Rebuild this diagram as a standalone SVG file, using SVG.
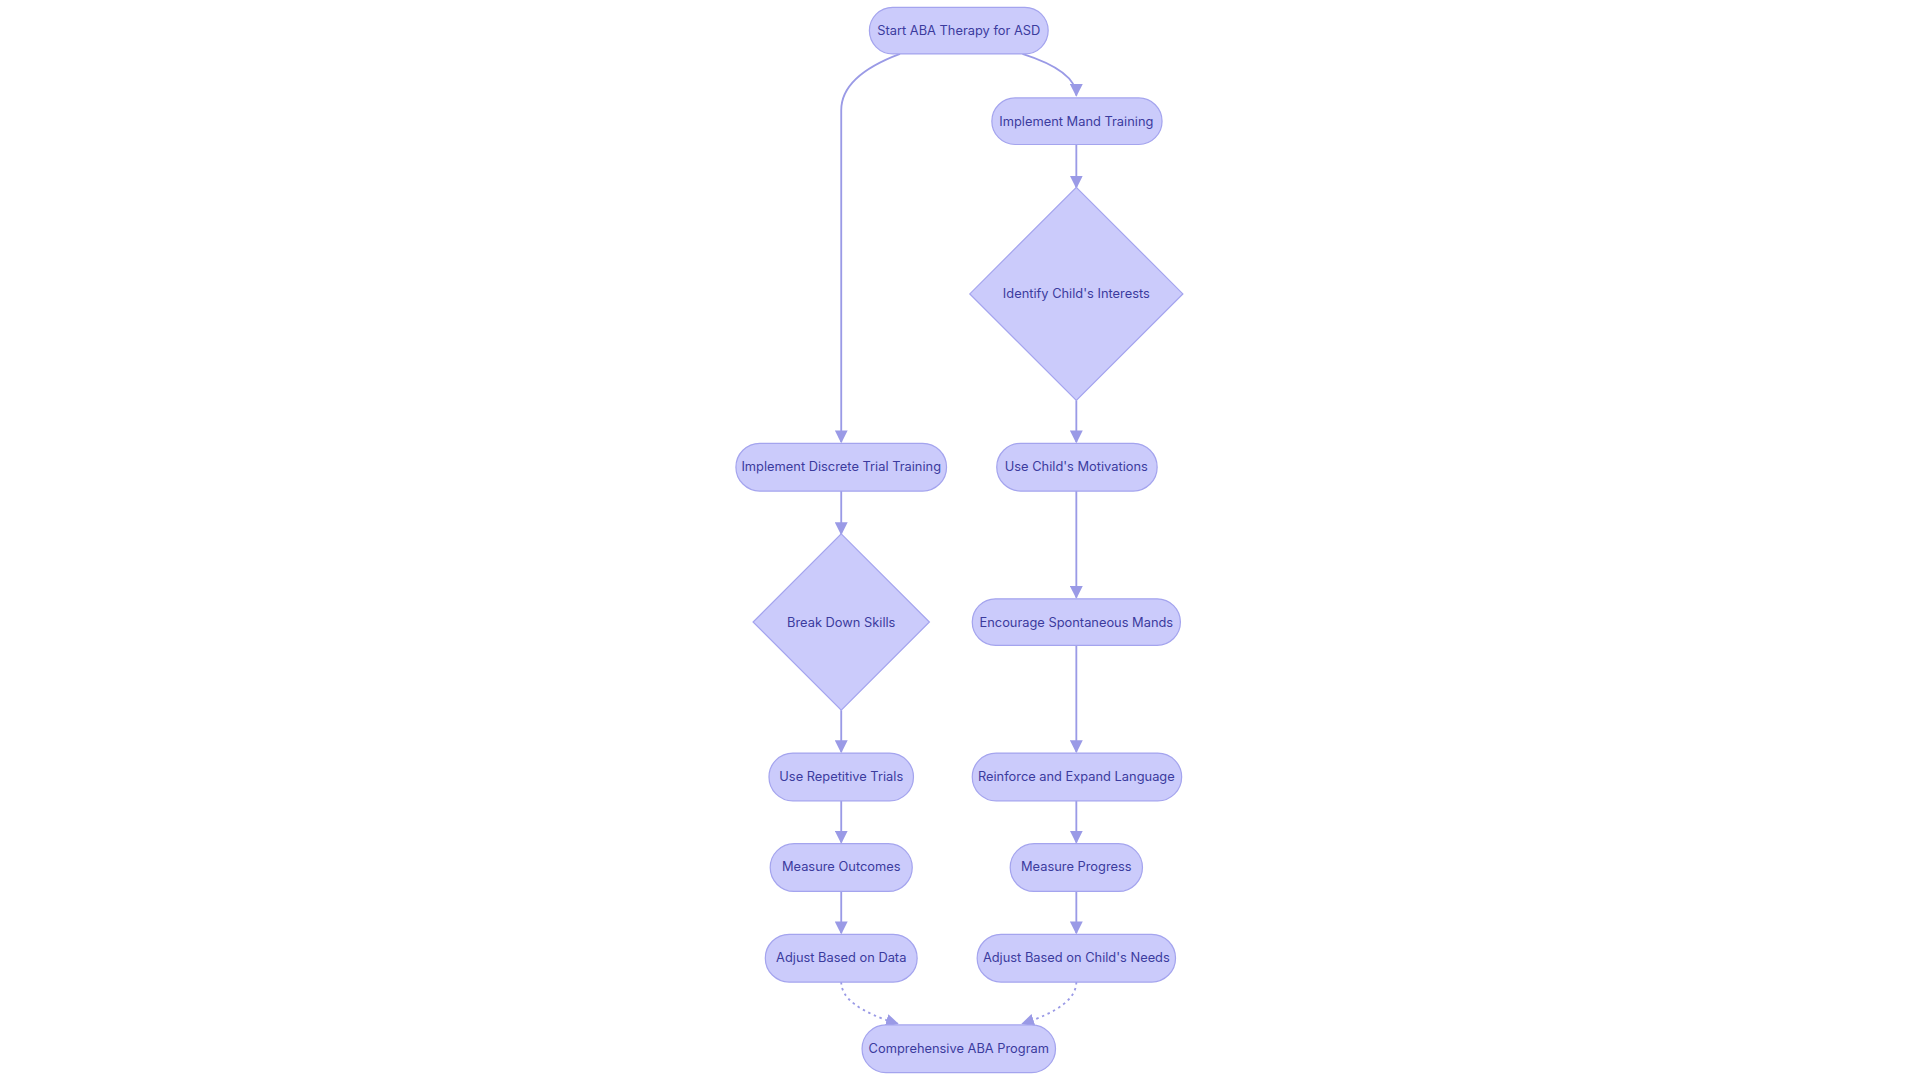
<svg xmlns="http://www.w3.org/2000/svg" width="1920" height="1080" viewBox="0 0 1920 1080">
<defs>
<style>
.n{fill:#CBCBFB;stroke:#A4A4EE;stroke-width:1}
.t{font-family:Inter,"Liberation Sans",sans-serif;font-size:10.5px;fill:#3B3B9E;text-anchor:middle;dominant-baseline:central}
.e{fill:none;stroke:#9A9AE6;stroke-width:1.5}
.d{stroke-dasharray:2 3}
</style>
<marker id="a" viewBox="0 0 10 10" refX="9" refY="5" markerWidth="7" markerHeight="7" orient="auto"><path d="M0,0L10,5L0,10z" fill="#9A9AE6"/></marker>
</defs>
<rect width="1920" height="1080" fill="#fff"/>
<g transform="scale(1.2245)">
<g id="connectors">
<path class="e" d="M735,44 Q687,62 687,90 L687,361" marker-end="url(#a)"/>
<path class="e" d="M835,44 Q879,58 879,78" marker-end="url(#a)"/>
<path class="e" d="M879,118 L879,153" marker-end="url(#a)"/>
<path class="e" d="M879,327 L879,361" marker-end="url(#a)"/>
<path class="e" d="M687,401 L687,436" marker-end="url(#a)"/>
<path class="e" d="M879,401 L879,488" marker-end="url(#a)"/>
<path class="e" d="M687,580 L687,614" marker-end="url(#a)"/>
<path class="e" d="M879,527 L879,614" marker-end="url(#a)"/>
<path class="e" d="M687,654 L687,688" marker-end="url(#a)"/>
<path class="e" d="M879,654 L879,688" marker-end="url(#a)"/>
<path class="e" d="M687,728 L687,762" marker-end="url(#a)"/>
<path class="e" d="M879,728 L879,762" marker-end="url(#a)"/>
<path class="e d" d="M687,802 Q687,822 733,836" marker-end="url(#a)"/>
<path class="e d" d="M879,802 Q879,822 835,836" marker-end="url(#a)"/>
</g>
<g id="start"><rect class="n" x="710" y="6" width="146" height="38" rx="19"/><text class="t" x="783" y="25">Start ABA Therapy for ASD</text></g>
<g id="mand"><rect class="n" x="810" y="80" width="139" height="38" rx="19"/><text class="t" x="879" y="99">Implement Mand Training</text></g>
<g id="interests"><polygon class="n" points="879,153 966,240 879,327 792,240"/><text class="t" x="879" y="240">Identify Child's Interests</text></g>
<g id="dtt"><rect class="n" x="601" y="362" width="172" height="39" rx="19.5"/><text class="t" x="687" y="381">Implement Discrete Trial Training</text></g>
<g id="motiv"><rect class="n" x="814" y="362" width="131" height="39" rx="19.5"/><text class="t" x="879" y="381">Use Child's Motivations</text></g>
<g id="breakdown"><polygon class="n" points="687,436 759,508 687,580 615,508"/><text class="t" x="687" y="508">Break Down Skills</text></g>
<g id="encourage"><rect class="n" x="794" y="489" width="170" height="38" rx="19"/><text class="t" x="879" y="508">Encourage Spontaneous Mands</text></g>
<g id="repetitive"><rect class="n" x="628" y="615" width="118" height="39" rx="19.5"/><text class="t" x="687" y="634">Use Repetitive Trials</text></g>
<g id="reinforce"><rect class="n" x="794" y="615" width="171" height="39" rx="19.5"/><text class="t" x="879" y="634">Reinforce and Expand Language</text></g>
<g id="outcomes"><rect class="n" x="629" y="689" width="116" height="39" rx="19.5"/><text class="t" x="687" y="708">Measure Outcomes</text></g>
<g id="progress"><rect class="n" x="825" y="689" width="108" height="39" rx="19.5"/><text class="t" x="879" y="708">Measure Progress</text></g>
<g id="adjdata"><rect class="n" x="625" y="763" width="124" height="39" rx="19.5"/><text class="t" x="687" y="782">Adjust Based on Data</text></g>
<g id="adjneeds"><rect class="n" x="798" y="763" width="162" height="39" rx="19.5"/><text class="t" x="879" y="782">Adjust Based on Child's Needs</text></g>
<g id="comprehensive"><rect class="n" x="704" y="837" width="158" height="39" rx="19.5"/><text class="t" x="783" y="856">Comprehensive ABA Program</text></g>
</g>
</svg>
